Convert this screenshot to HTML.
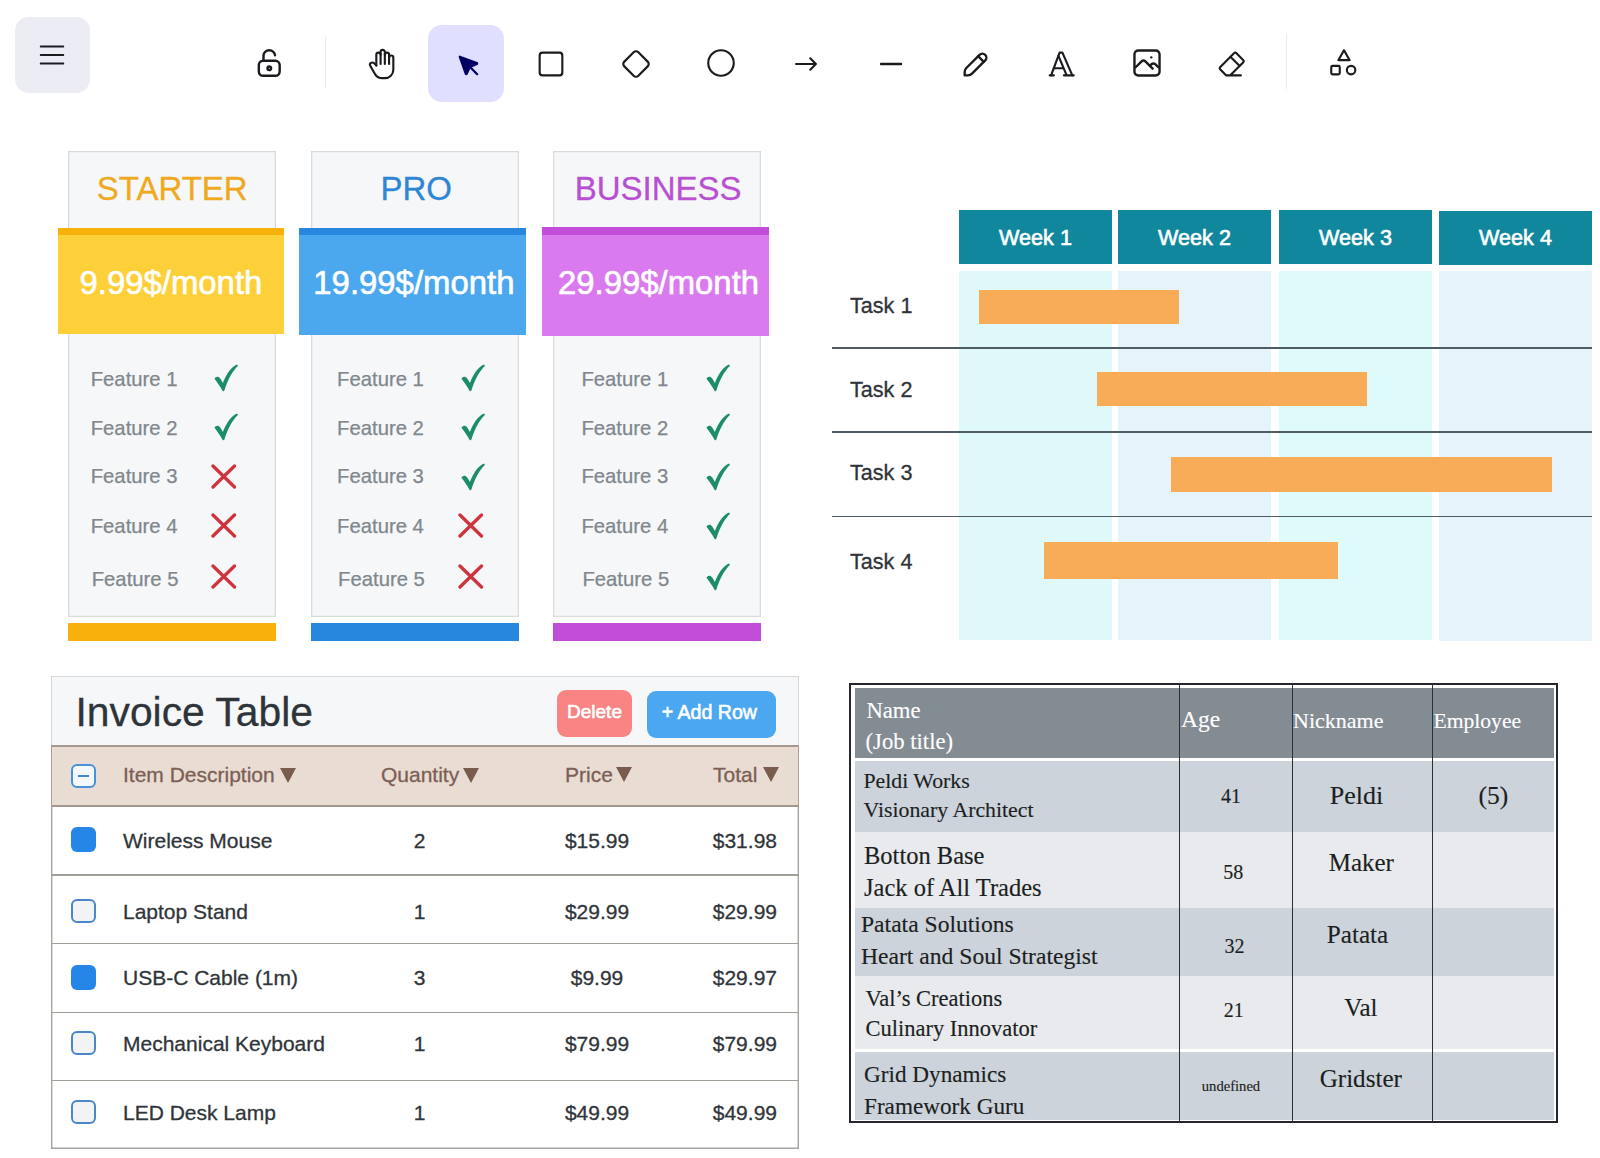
<!DOCTYPE html>
<html><head><meta charset="utf-8"><style>
html,body{margin:0;padding:0;background:#FFFFFF;}
body{width:1600px;height:1158px;position:relative;overflow:hidden;}
.t{position:absolute;white-space:nowrap;}
.r{position:absolute;}
svg.r{overflow:visible;}
</style></head><body>
<div class="r" style="left:14.8px;top:17px;width:75.2px;height:76px;background:#ECECF4;border-radius:14px;"></div>
<div class="r" style="left:428px;top:25px;width:76px;height:77px;background:#E0DFFF;border-radius:14px;"></div>
<div class="r" style="left:324.5px;top:37px;width:1px;height:51px;background:#EAEAF0;"></div>
<div class="r" style="left:1286px;top:33px;width:1px;height:56px;background:#EAEAF0;"></div>
<svg class="r" style="left:35.0px;top:38.0px" width="34" height="34" viewBox="0 0 24 24" fill="none" stroke="#1B1B1F" stroke-linecap="round" stroke-linejoin="round" stroke-width="1.3"><path d="M4 6h16M4 12h16M4 18h16"/></svg>
<svg class="r" style="left:251.8px;top:45.8px" width="34.5" height="34.5" viewBox="0 0 20 20" fill="none" stroke="#1B1B1F" stroke-linecap="round" stroke-linejoin="round" stroke-width="1.4"><path d="M13.542 8.542H6.458a2.5 2.5 0 0 0-2.5 2.5v3.75a2.5 2.5 0 0 0 2.5 2.5h7.084a2.5 2.5 0 0 0 2.5-2.5v-3.75a2.5 2.5 0 0 0-2.5-2.5Z"/><path d="M10 13.958a1.042 1.042 0 1 0 0-2.083 1.042 1.042 0 0 0 0 2.083Z"/><path d="M6.667 8.333V5.417C6.667 3.806 8.159 2.5 10 2.5c1.841 0 3.333 1.306 3.333 2.917"/></svg>
<svg class="r" style="left:364.5px;top:46.7px" width="34" height="34" viewBox="0 0 24 24" fill="none" stroke="#1B1B1F" stroke-linecap="round" stroke-linejoin="round" stroke-width="1.5"><path d="M8 13v-7.5a1.5 1.5 0 0 1 3 0v6.5"/><path d="M11 5.5v-2a1.5 1.5 0 1 1 3 0v8.5"/><path d="M14 5.5a1.5 1.5 0 0 1 3 0v6.5"/><path d="M17 7.5a1.5 1.5 0 0 1 3 0v8.5a6 6 0 0 1 -6 6h-2h.208a6 6 0 0 1 -5.012 -2.7a69.74 69.74 0 0 1 -.196 -.3c-.312 -.479 -1.407 -2.388 -3.286 -5.728a1.5 1.5 0 0 1 .536 -2.022a1.867 1.867 0 0 1 2.28 .28l1.47 1.47"/></svg>
<svg class="r" style="left:451.0px;top:48.0px" width="32" height="32" viewBox="0 0 22 22" fill="none" stroke="#030064" stroke-linecap="round" stroke-linejoin="round" stroke-width="1.5"><path d="M6 6l4.153 11.793a0.365 .365 0 0 0 .331 .207a0.366 .366 0 0 0 .332 -.207l2.184 -4.793l4.787 -1.994a0.355 .355 0 0 0 .213 -.323a0.355 .355 0 0 0 -.213 -.323l-11.787 -4.36z" fill="#030064"/><path d="M13.5 13.5l4.5 4.5"/></svg>
<svg class="r" style="left:534.0px;top:46.5px" width="34" height="34" viewBox="0 0 24 24" fill="none" stroke="#1B1B1F" stroke-linecap="round" stroke-linejoin="round" stroke-width="1.5"><rect x="4" y="4" width="16" height="16" rx="2"/></svg>
<svg class="r" style="left:619.4px;top:46.5px" width="34" height="34" viewBox="0 0 24 24" fill="none" stroke="#1B1B1F" stroke-linecap="round" stroke-linejoin="round" stroke-width="1.5"><path d="M10.5 20.4l-6.9 -6.9c-.781 -.781 -.781 -2.219 0 -3l6.9 -6.9c.781 -.781 2.219 -.781 3 0l6.9 6.9c.781 .781 .781 2.219 0 3l-6.9 6.9c-.781 .781 -2.219 .781 -3 0z"/></svg>
<svg class="r" style="left:704.0px;top:46.1px" width="34" height="34" viewBox="0 0 24 24" fill="none" stroke="#1B1B1F" stroke-linecap="round" stroke-linejoin="round" stroke-width="1.5"><circle cx="12" cy="12" r="9"/></svg>
<svg class="r" style="left:789.0px;top:46.5px" width="34" height="34" viewBox="0 0 24 24" fill="none" stroke="#1B1B1F" stroke-linecap="round" stroke-linejoin="round" stroke-width="1.5"><path d="M5 12h14M15 16l4-4M15 8l4 4"/></svg>
<svg class="r" style="left:874.0px;top:46.5px" width="34" height="34" viewBox="0 0 24 24" fill="none" stroke="#1B1B1F" stroke-linecap="round" stroke-linejoin="round" stroke-width="1.8"><path d="M5 12h14"/></svg>
<svg class="r" style="left:958.5px;top:47.0px" width="34" height="34" viewBox="0 0 20 20" fill="none" stroke="#1B1B1F" stroke-linecap="round" stroke-linejoin="round" stroke-width="1.4"><path d="m7.643 15.69 7.774-7.773a2.357 2.357 0 1 0-3.334-3.334L4.31 12.357a3.333 3.333 0 0 0-.977 2.357v1.953h1.953c.884 0 1.732-.352 2.357-.977Z"/><path d="m11.25 5.417 3.333 3.333"/></svg>
<svg class="r" style="left:1044.0px;top:46.5px" width="34" height="34" viewBox="0 0 24 24" fill="none" stroke="#1B1B1F" stroke-linecap="round" stroke-linejoin="round" stroke-width="1.5"><path d="M4 20h3M14 20h7M6.9 15h6.9M10.2 6.3L16 20"/><polyline points="5 20 11 4 13 4 20 20"/></svg>
<svg class="r" style="left:1129.5px;top:46.2px" width="34" height="34" viewBox="0 0 20 20" fill="none" stroke="#1B1B1F" stroke-linecap="round" stroke-linejoin="round" stroke-width="1.4"><path d="M12.5 6.667h.01"/><path d="M4.91 2.625h10.18a2.284 2.284 0 0 1 2.285 2.284v10.182a2.284 2.284 0 0 1-2.284 2.284H4.909a2.284 2.284 0 0 1-2.284-2.284V4.909a2.284 2.284 0 0 1 2.284-2.284Z"/><path d="m3.333 12.5 3.334-3.333c.773-.745 1.726-.745 2.5 0l4.166 4.166"/><path d="m11.667 11.667.833-.834c.774-.744 1.726-.744 2.5 0l1.667 1.667"/></svg>
<svg class="r" style="left:1214.0px;top:46.5px" width="34" height="34" viewBox="0 0 24 24" fill="none" stroke="#1B1B1F" stroke-linecap="round" stroke-linejoin="round" stroke-width="1.5"><path d="M19 20h-10.5l-4.21 -4.3a1 1 0 0 1 0 -1.41l10 -10a1 1 0 0 1 1.41 0l5 5a1 1 0 0 1 0 1.41l-9.2 9.3"/><path d="M18 13.3l-6.3 -6.3"/></svg>
<svg class="r" style="left:1326.7px;top:46.3px" width="34" height="34" viewBox="0 0 24 24" fill="none" stroke="#1B1B1F" stroke-linecap="round" stroke-linejoin="round" stroke-width="1.5"><path d="M12 3l-4 7h8z"/><path d="M17 17m-3 0a3 3 0 1 0 6 0a3 3 0 1 0 -6 0"/><path d="M3 14m0 1a1 1 0 0 1 1 -1h4a1 1 0 0 1 1 1v4a1 1 0 0 1 -1 1h-4a1 1 0 0 1 -1 -1z"/></svg>
<div class="r" style="left:68px;top:151px;width:208px;height:466px;background:#F5F7F9;box-shadow:inset 0 0 0 1.3px #D9DCDF;"></div>
<div class="t" style="left:22.2px;width:300px;text-align:center;top:169.2px;font-size:33px;line-height:39.60px;color:#F0A91E;font-family:'Liberation Sans', sans-serif;font-weight:400;-webkit-text-stroke:0.3px #F0A91E;">STARTER</div>
<div class="r" style="left:58px;top:228px;width:226px;height:106px;background:#FDD03A;"></div>
<div class="r" style="left:58px;top:228px;width:226px;height:7.400000000000006px;background:#F8B00A;"></div>
<div class="t" style="left:20.9px;width:300px;text-align:center;top:262.7px;font-size:32.9px;line-height:39.48px;color:#FFFFFF;font-family:'Liberation Sans', sans-serif;font-weight:400;-webkit-text-stroke:0.6px #FFFFFF;">9.99$/month</div>
<div class="r" style="left:68px;top:623px;width:208px;height:18px;background:#F8B00A;"></div>
<div class="t" style="left:90.7px;top:366.8px;font-size:20.3px;line-height:24.36px;color:#80878D;font-family:'Liberation Sans', sans-serif;font-weight:400;-webkit-text-stroke:0.25px #80878D;">Feature 1</div>
<div class="r" style="left:214px;top:363.7px;width:24px;height:28px"><svg width="24" height="28" viewBox="0 0 24 28"><path d="M0.5 14.8C1.3 13 3.3 12.3 4.9 13.3C6 14 7.4 16.3 8.9 19C11.8 11.5 15.8 4.8 21.8 1.1C22.9 0.5 24 1 23.8 2.1C18.6 7.3 13.8 15.5 10.4 26.5C10.1 27.5 9 27.6 8.5 26.8C6.2 22.6 3.2 18 0.5 14.8Z" fill="#1C8C6B"/></svg></div>
<div class="t" style="left:90.7px;top:415.6px;font-size:20.3px;line-height:24.36px;color:#80878D;font-family:'Liberation Sans', sans-serif;font-weight:400;-webkit-text-stroke:0.25px #80878D;">Feature 2</div>
<div class="r" style="left:214px;top:412.5px;width:24px;height:28px"><svg width="24" height="28" viewBox="0 0 24 28"><path d="M0.5 14.8C1.3 13 3.3 12.3 4.9 13.3C6 14 7.4 16.3 8.9 19C11.8 11.5 15.8 4.8 21.8 1.1C22.9 0.5 24 1 23.8 2.1C18.6 7.3 13.8 15.5 10.4 26.5C10.1 27.5 9 27.6 8.5 26.8C6.2 22.6 3.2 18 0.5 14.8Z" fill="#1C8C6B"/></svg></div>
<div class="t" style="left:90.7px;top:464.1px;font-size:20.3px;line-height:24.36px;color:#80878D;font-family:'Liberation Sans', sans-serif;font-weight:400;-webkit-text-stroke:0.25px #80878D;">Feature 3</div>
<div class="r" style="left:211px;top:463.8px;width:26px;height:26px"><svg width="26" height="26" viewBox="0 0 26 26"><path d="M2 2l21.5 21M23.5 2L2 23" stroke="#CF333C" stroke-width="3.3" stroke-linecap="round"/></svg></div>
<div class="t" style="left:90.7px;top:513.5px;font-size:20.3px;line-height:24.36px;color:#80878D;font-family:'Liberation Sans', sans-serif;font-weight:400;-webkit-text-stroke:0.25px #80878D;">Feature 4</div>
<div class="r" style="left:211px;top:513.4px;width:26px;height:26px"><svg width="26" height="26" viewBox="0 0 26 26"><path d="M2 2l21.5 21M23.5 2L2 23" stroke="#CF333C" stroke-width="3.3" stroke-linecap="round"/></svg></div>
<div class="t" style="left:91.7px;top:566.5px;font-size:20.3px;line-height:24.36px;color:#80878D;font-family:'Liberation Sans', sans-serif;font-weight:400;-webkit-text-stroke:0.25px #80878D;">Feature 5</div>
<div class="r" style="left:211px;top:564.0px;width:26px;height:26px"><svg width="26" height="26" viewBox="0 0 26 26"><path d="M2 2l21.5 21M23.5 2L2 23" stroke="#CF333C" stroke-width="3.3" stroke-linecap="round"/></svg></div>
<div class="r" style="left:311px;top:151px;width:208px;height:466px;background:#F5F7F9;box-shadow:inset 0 0 0 1.3px #D9DCDF;"></div>
<div class="t" style="left:266.2px;width:300px;text-align:center;top:169.2px;font-size:33px;line-height:39.60px;color:#2F86D4;font-family:'Liberation Sans', sans-serif;font-weight:400;-webkit-text-stroke:0.3px #2F86D4;">PRO</div>
<div class="r" style="left:298.5px;top:228px;width:227.5px;height:106.5px;background:#4BA7EE;"></div>
<div class="r" style="left:298.5px;top:228px;width:227.5px;height:7.400000000000006px;background:#2786DD;"></div>
<div class="t" style="left:263.9px;width:300px;text-align:center;top:262.7px;font-size:32.9px;line-height:39.48px;color:#FFFFFF;font-family:'Liberation Sans', sans-serif;font-weight:400;-webkit-text-stroke:0.6px #FFFFFF;">19.99$/month</div>
<div class="r" style="left:311px;top:623px;width:208px;height:18px;background:#2786DD;"></div>
<div class="t" style="left:337.1px;top:366.8px;font-size:20.3px;line-height:24.36px;color:#80878D;font-family:'Liberation Sans', sans-serif;font-weight:400;-webkit-text-stroke:0.25px #80878D;">Feature 1</div>
<div class="r" style="left:460.5px;top:363.7px;width:24px;height:28px"><svg width="24" height="28" viewBox="0 0 24 28"><path d="M0.5 14.8C1.3 13 3.3 12.3 4.9 13.3C6 14 7.4 16.3 8.9 19C11.8 11.5 15.8 4.8 21.8 1.1C22.9 0.5 24 1 23.8 2.1C18.6 7.3 13.8 15.5 10.4 26.5C10.1 27.5 9 27.6 8.5 26.8C6.2 22.6 3.2 18 0.5 14.8Z" fill="#1C8C6B"/></svg></div>
<div class="t" style="left:337.1px;top:415.6px;font-size:20.3px;line-height:24.36px;color:#80878D;font-family:'Liberation Sans', sans-serif;font-weight:400;-webkit-text-stroke:0.25px #80878D;">Feature 2</div>
<div class="r" style="left:460.5px;top:412.5px;width:24px;height:28px"><svg width="24" height="28" viewBox="0 0 24 28"><path d="M0.5 14.8C1.3 13 3.3 12.3 4.9 13.3C6 14 7.4 16.3 8.9 19C11.8 11.5 15.8 4.8 21.8 1.1C22.9 0.5 24 1 23.8 2.1C18.6 7.3 13.8 15.5 10.4 26.5C10.1 27.5 9 27.6 8.5 26.8C6.2 22.6 3.2 18 0.5 14.8Z" fill="#1C8C6B"/></svg></div>
<div class="t" style="left:337.1px;top:464.1px;font-size:20.3px;line-height:24.36px;color:#80878D;font-family:'Liberation Sans', sans-serif;font-weight:400;-webkit-text-stroke:0.25px #80878D;">Feature 3</div>
<div class="r" style="left:460.5px;top:462.8px;width:24px;height:28px"><svg width="24" height="28" viewBox="0 0 24 28"><path d="M0.5 14.8C1.3 13 3.3 12.3 4.9 13.3C6 14 7.4 16.3 8.9 19C11.8 11.5 15.8 4.8 21.8 1.1C22.9 0.5 24 1 23.8 2.1C18.6 7.3 13.8 15.5 10.4 26.5C10.1 27.5 9 27.6 8.5 26.8C6.2 22.6 3.2 18 0.5 14.8Z" fill="#1C8C6B"/></svg></div>
<div class="t" style="left:337.1px;top:513.5px;font-size:20.3px;line-height:24.36px;color:#80878D;font-family:'Liberation Sans', sans-serif;font-weight:400;-webkit-text-stroke:0.25px #80878D;">Feature 4</div>
<div class="r" style="left:457.5px;top:513.4px;width:26px;height:26px"><svg width="26" height="26" viewBox="0 0 26 26"><path d="M2 2l21.5 21M23.5 2L2 23" stroke="#CF333C" stroke-width="3.3" stroke-linecap="round"/></svg></div>
<div class="t" style="left:338.1px;top:566.5px;font-size:20.3px;line-height:24.36px;color:#80878D;font-family:'Liberation Sans', sans-serif;font-weight:400;-webkit-text-stroke:0.25px #80878D;">Feature 5</div>
<div class="r" style="left:457.5px;top:564.0px;width:26px;height:26px"><svg width="26" height="26" viewBox="0 0 26 26"><path d="M2 2l21.5 21M23.5 2L2 23" stroke="#CF333C" stroke-width="3.3" stroke-linecap="round"/></svg></div>
<div class="r" style="left:553px;top:151px;width:208px;height:466px;background:#F5F7F9;box-shadow:inset 0 0 0 1.3px #D9DCDF;"></div>
<div class="t" style="left:508.1px;width:300px;text-align:center;top:169.2px;font-size:33px;line-height:39.60px;color:#B94FD1;font-family:'Liberation Sans', sans-serif;font-weight:400;-webkit-text-stroke:0.3px #B94FD1;">BUSINESS</div>
<div class="r" style="left:541.8px;top:226.7px;width:227.70000000000005px;height:109.30000000000001px;background:#D97AEE;"></div>
<div class="r" style="left:541.8px;top:226.7px;width:227.70000000000005px;height:8.700000000000017px;background:#C24DD9;"></div>
<div class="t" style="left:508.5px;width:300px;text-align:center;top:262.7px;font-size:32.9px;line-height:39.48px;color:#FFFFFF;font-family:'Liberation Sans', sans-serif;font-weight:400;-webkit-text-stroke:0.6px #FFFFFF;">29.99$/month</div>
<div class="r" style="left:553px;top:623px;width:208px;height:18px;background:#C24DD9;"></div>
<div class="t" style="left:581.4px;top:366.8px;font-size:20.3px;line-height:24.36px;color:#80878D;font-family:'Liberation Sans', sans-serif;font-weight:400;-webkit-text-stroke:0.25px #80878D;">Feature 1</div>
<div class="r" style="left:706px;top:363.7px;width:24px;height:28px"><svg width="24" height="28" viewBox="0 0 24 28"><path d="M0.5 14.8C1.3 13 3.3 12.3 4.9 13.3C6 14 7.4 16.3 8.9 19C11.8 11.5 15.8 4.8 21.8 1.1C22.9 0.5 24 1 23.8 2.1C18.6 7.3 13.8 15.5 10.4 26.5C10.1 27.5 9 27.6 8.5 26.8C6.2 22.6 3.2 18 0.5 14.8Z" fill="#1C8C6B"/></svg></div>
<div class="t" style="left:581.4px;top:415.6px;font-size:20.3px;line-height:24.36px;color:#80878D;font-family:'Liberation Sans', sans-serif;font-weight:400;-webkit-text-stroke:0.25px #80878D;">Feature 2</div>
<div class="r" style="left:706px;top:412.5px;width:24px;height:28px"><svg width="24" height="28" viewBox="0 0 24 28"><path d="M0.5 14.8C1.3 13 3.3 12.3 4.9 13.3C6 14 7.4 16.3 8.9 19C11.8 11.5 15.8 4.8 21.8 1.1C22.9 0.5 24 1 23.8 2.1C18.6 7.3 13.8 15.5 10.4 26.5C10.1 27.5 9 27.6 8.5 26.8C6.2 22.6 3.2 18 0.5 14.8Z" fill="#1C8C6B"/></svg></div>
<div class="t" style="left:581.4px;top:464.1px;font-size:20.3px;line-height:24.36px;color:#80878D;font-family:'Liberation Sans', sans-serif;font-weight:400;-webkit-text-stroke:0.25px #80878D;">Feature 3</div>
<div class="r" style="left:706px;top:462.8px;width:24px;height:28px"><svg width="24" height="28" viewBox="0 0 24 28"><path d="M0.5 14.8C1.3 13 3.3 12.3 4.9 13.3C6 14 7.4 16.3 8.9 19C11.8 11.5 15.8 4.8 21.8 1.1C22.9 0.5 24 1 23.8 2.1C18.6 7.3 13.8 15.5 10.4 26.5C10.1 27.5 9 27.6 8.5 26.8C6.2 22.6 3.2 18 0.5 14.8Z" fill="#1C8C6B"/></svg></div>
<div class="t" style="left:581.4px;top:513.5px;font-size:20.3px;line-height:24.36px;color:#80878D;font-family:'Liberation Sans', sans-serif;font-weight:400;-webkit-text-stroke:0.25px #80878D;">Feature 4</div>
<div class="r" style="left:706px;top:512.4px;width:24px;height:28px"><svg width="24" height="28" viewBox="0 0 24 28"><path d="M0.5 14.8C1.3 13 3.3 12.3 4.9 13.3C6 14 7.4 16.3 8.9 19C11.8 11.5 15.8 4.8 21.8 1.1C22.9 0.5 24 1 23.8 2.1C18.6 7.3 13.8 15.5 10.4 26.5C10.1 27.5 9 27.6 8.5 26.8C6.2 22.6 3.2 18 0.5 14.8Z" fill="#1C8C6B"/></svg></div>
<div class="t" style="left:582.4px;top:566.5px;font-size:20.3px;line-height:24.36px;color:#80878D;font-family:'Liberation Sans', sans-serif;font-weight:400;-webkit-text-stroke:0.25px #80878D;">Feature 5</div>
<div class="r" style="left:706px;top:563.0px;width:24px;height:28px"><svg width="24" height="28" viewBox="0 0 24 28"><path d="M0.5 14.8C1.3 13 3.3 12.3 4.9 13.3C6 14 7.4 16.3 8.9 19C11.8 11.5 15.8 4.8 21.8 1.1C22.9 0.5 24 1 23.8 2.1C18.6 7.3 13.8 15.5 10.4 26.5C10.1 27.5 9 27.6 8.5 26.8C6.2 22.6 3.2 18 0.5 14.8Z" fill="#1C8C6B"/></svg></div>
<div class="r" style="left:959px;top:271px;width:153px;height:369px;background:#DFF9FB;"></div>
<div class="r" style="left:959px;top:209.8px;width:153px;height:53.8px;background:#11879D;"></div>
<div class="t" style="left:935.5px;width:200px;text-align:center;top:224.6px;font-size:21.6px;line-height:25.92px;color:#FFFFFF;font-family:'Liberation Sans', sans-serif;font-weight:400;-webkit-text-stroke:0.6px #FFFFFF;">Week 1</div>
<div class="r" style="left:1118px;top:271px;width:153px;height:369px;background:#E5F4FA;"></div>
<div class="r" style="left:1118px;top:209.8px;width:153px;height:53.8px;background:#11879D;"></div>
<div class="t" style="left:1094.5px;width:200px;text-align:center;top:224.6px;font-size:21.6px;line-height:25.92px;color:#FFFFFF;font-family:'Liberation Sans', sans-serif;font-weight:400;-webkit-text-stroke:0.6px #FFFFFF;">Week 2</div>
<div class="r" style="left:1279px;top:271px;width:153px;height:369px;background:#DFFAFB;"></div>
<div class="r" style="left:1279px;top:209.8px;width:153px;height:53.8px;background:#11879D;"></div>
<div class="t" style="left:1255.5px;width:200px;text-align:center;top:224.6px;font-size:21.6px;line-height:25.92px;color:#FFFFFF;font-family:'Liberation Sans', sans-serif;font-weight:400;-webkit-text-stroke:0.6px #FFFFFF;">Week 3</div>
<div class="r" style="left:1439px;top:271px;width:153px;height:370px;background:#E5F4FA;"></div>
<div class="r" style="left:1439px;top:211px;width:153px;height:53.8px;background:#11879D;"></div>
<div class="t" style="left:1415.5px;width:200px;text-align:center;top:225.4px;font-size:21.6px;line-height:25.92px;color:#FFFFFF;font-family:'Liberation Sans', sans-serif;font-weight:400;-webkit-text-stroke:0.6px #FFFFFF;">Week 4</div>
<div class="r" style="left:832px;top:347px;width:760px;height:1.8px;background:#4F5C64;"></div>
<div class="r" style="left:832px;top:430.8px;width:760px;height:1.8px;background:#4F5C64;"></div>
<div class="r" style="left:832px;top:515.6px;width:760px;height:1.8px;background:#4F5C64;"></div>
<div class="t" style="left:850.0px;top:292.9px;font-size:21.6px;line-height:25.92px;color:#2E3338;font-family:'Liberation Sans', sans-serif;font-weight:400;-webkit-text-stroke:0.3px #2E3338;">Task 1</div>
<div class="t" style="left:850.0px;top:376.5px;font-size:21.6px;line-height:25.92px;color:#2E3338;font-family:'Liberation Sans', sans-serif;font-weight:400;-webkit-text-stroke:0.3px #2E3338;">Task 2</div>
<div class="t" style="left:850.0px;top:459.8px;font-size:21.6px;line-height:25.92px;color:#2E3338;font-family:'Liberation Sans', sans-serif;font-weight:400;-webkit-text-stroke:0.3px #2E3338;">Task 3</div>
<div class="t" style="left:850.0px;top:549.0px;font-size:21.6px;line-height:25.92px;color:#2E3338;font-family:'Liberation Sans', sans-serif;font-weight:400;-webkit-text-stroke:0.3px #2E3338;">Task 4</div>
<div class="r" style="left:979px;top:290px;width:200px;height:34px;background:#F9AC58;"></div>
<div class="r" style="left:1097px;top:372px;width:270px;height:34px;background:#F9AC58;"></div>
<div class="r" style="left:1171px;top:457px;width:381px;height:35px;background:#F9AC58;"></div>
<div class="r" style="left:1044px;top:542px;width:294px;height:37px;background:#F9AC58;"></div>
<div class="r" style="left:51px;top:676px;width:748px;height:473px;background:#FFFFFF;box-shadow:inset 0 0 0 1.4px #A8A49F;"></div>
<div class="r" style="left:51px;top:676px;width:748px;height:70px;box-shadow:inset 0 0 0 1.3px #D6D9DC;"></div>
<div class="r" style="left:52px;top:677px;width:746px;height:69px;background:#F5F7F9;"></div>
<div class="t" style="left:75.5px;top:687.7px;font-size:40.8px;line-height:48.96px;color:#2E3439;font-family:'Liberation Sans', sans-serif;font-weight:400;-webkit-text-stroke:0.3px #2E3439;">Invoice Table</div>
<div class="r" style="left:557px;top:690px;width:75px;height:47px;background:#F88583;border-radius:9px;"></div>
<div class="t" style="left:544.5px;width:100px;text-align:center;top:701.0px;font-size:19px;line-height:22.80px;color:#FFFFFF;font-family:'Liberation Sans', sans-serif;font-weight:400;-webkit-text-stroke:0.6px #FFFFFF;">Delete</div>
<div class="r" style="left:647px;top:691px;width:129px;height:47px;background:#4BA8F0;border-radius:9px;"></div>
<div class="t" style="left:629.3px;width:160px;text-align:center;top:701.4px;font-size:19.6px;line-height:23.52px;color:#FFFFFF;font-family:'Liberation Sans', sans-serif;font-weight:400;-webkit-text-stroke:0.6px #FFFFFF;">+ Add Row</div>
<div class="r" style="left:52px;top:746px;width:746px;height:60px;background:#E8DCD3;"></div>
<div class="r" style="left:51px;top:745px;width:748px;height:1.6px;background:#A8978D;"></div>
<div class="r" style="left:51px;top:805.3px;width:748px;height:1.6px;background:#A8978D;"></div>
<div class="r" style="left:797.6px;top:746px;width:1.4px;height:60px;background:#AE9F97;"></div>
<div class="r" style="left:51px;top:746px;width:1.4px;height:60px;background:#AE9F97;"></div>
<div class="r" style="left:51px;top:874px;width:748px;height:1.5px;background:#A39F99;"></div>
<div class="r" style="left:51px;top:942.5px;width:748px;height:1.5px;background:#A39F99;"></div>
<div class="r" style="left:51px;top:1011.7px;width:748px;height:1.5px;background:#A39F99;"></div>
<div class="r" style="left:51px;top:1079.9px;width:748px;height:1.5px;background:#A39F99;"></div>
<div class="r" style="left:71px;top:764px;width:25px;height:24px;box-sizing:border-box;border:2.4px solid #4A90DA;border-radius:6px;background:#F4F8FC;"></div>
<div class="r" style="left:78px;top:775px;width:11px;height:2.4px;background:#3F86D3;"></div>
<div class="t" style="left:123.0px;top:761.7px;font-size:21px;line-height:25.20px;color:#7C5F55;font-family:'Liberation Sans', sans-serif;font-weight:400;-webkit-text-stroke:0.3px #7C5F55;">Item Description</div>
<svg class="r" style="left:280px;top:768px" width="16" height="15" viewBox="0 0 16 15"><path d="M0 0H16L8.0 15z" fill="#7A5C4F"/></svg>
<div class="t" style="left:381.0px;top:761.7px;font-size:21px;line-height:25.20px;color:#7C5F55;font-family:'Liberation Sans', sans-serif;font-weight:400;-webkit-text-stroke:0.3px #7C5F55;">Quantity</div>
<svg class="r" style="left:463px;top:768px" width="16" height="15" viewBox="0 0 16 15"><path d="M0 0H16L8.0 15z" fill="#7A5C4F"/></svg>
<div class="t" style="left:565.0px;top:761.5px;font-size:21px;line-height:25.20px;color:#7C5F55;font-family:'Liberation Sans', sans-serif;font-weight:400;-webkit-text-stroke:0.3px #7C5F55;">Price</div>
<svg class="r" style="left:616px;top:767px" width="16" height="15" viewBox="0 0 16 15"><path d="M0 0H16L8.0 15z" fill="#7A5C4F"/></svg>
<div class="t" style="left:713.0px;top:761.7px;font-size:21px;line-height:25.20px;color:#7C5F55;font-family:'Liberation Sans', sans-serif;font-weight:400;-webkit-text-stroke:0.3px #7C5F55;">Total</div>
<svg class="r" style="left:763px;top:767px" width="16" height="15" viewBox="0 0 16 15"><path d="M0 0H16L8.0 15z" fill="#7A5C4F"/></svg>
<div class="r" style="left:71px;top:827.4000000000001px;width:25px;height:25px;background:#2586E8;border-radius:6px;"></div>
<div class="t" style="left:123.0px;top:827.8px;font-size:21px;line-height:25.20px;color:#30353A;font-family:'Liberation Sans', sans-serif;font-weight:400;-webkit-text-stroke:0.3px #30353A;">Wireless Mouse</div>
<div class="t" style="left:389.5px;width:60px;text-align:center;top:827.8px;font-size:21px;line-height:25.20px;color:#30353A;font-family:'Liberation Sans', sans-serif;font-weight:400;-webkit-text-stroke:0.3px #30353A;">2</div>
<div class="t" style="left:537.0px;width:120px;text-align:center;top:827.8px;font-size:21px;line-height:25.20px;color:#30353A;font-family:'Liberation Sans', sans-serif;font-weight:400;-webkit-text-stroke:0.3px #30353A;">$15.99</div>
<div class="t" style="left:657.0px;width:120px;text-align:right;top:827.8px;font-size:21px;line-height:25.20px;color:#30353A;font-family:'Liberation Sans', sans-serif;font-weight:400;-webkit-text-stroke:0.3px #30353A;">$31.98</div>
<div class="r" style="left:71px;top:899.0px;width:25px;height:24px;box-sizing:border-box;border:2.4px solid #4A86C8;border-radius:6px;background:#F1F3F5;"></div>
<div class="t" style="left:123.0px;top:898.9px;font-size:21px;line-height:25.20px;color:#30353A;font-family:'Liberation Sans', sans-serif;font-weight:400;-webkit-text-stroke:0.3px #30353A;">Laptop Stand</div>
<div class="t" style="left:389.5px;width:60px;text-align:center;top:898.9px;font-size:21px;line-height:25.20px;color:#30353A;font-family:'Liberation Sans', sans-serif;font-weight:400;-webkit-text-stroke:0.3px #30353A;">1</div>
<div class="t" style="left:537.0px;width:120px;text-align:center;top:898.9px;font-size:21px;line-height:25.20px;color:#30353A;font-family:'Liberation Sans', sans-serif;font-weight:400;-webkit-text-stroke:0.3px #30353A;">$29.99</div>
<div class="t" style="left:657.0px;width:120px;text-align:right;top:898.9px;font-size:21px;line-height:25.20px;color:#30353A;font-family:'Liberation Sans', sans-serif;font-weight:400;-webkit-text-stroke:0.3px #30353A;">$29.99</div>
<div class="r" style="left:71px;top:964.5px;width:25px;height:25px;background:#2586E8;border-radius:6px;"></div>
<div class="t" style="left:123.0px;top:964.9px;font-size:21px;line-height:25.20px;color:#30353A;font-family:'Liberation Sans', sans-serif;font-weight:400;-webkit-text-stroke:0.3px #30353A;">USB-C Cable (1m)</div>
<div class="t" style="left:389.5px;width:60px;text-align:center;top:964.9px;font-size:21px;line-height:25.20px;color:#30353A;font-family:'Liberation Sans', sans-serif;font-weight:400;-webkit-text-stroke:0.3px #30353A;">3</div>
<div class="t" style="left:537.0px;width:120px;text-align:center;top:964.9px;font-size:21px;line-height:25.20px;color:#30353A;font-family:'Liberation Sans', sans-serif;font-weight:400;-webkit-text-stroke:0.3px #30353A;">$9.99</div>
<div class="t" style="left:657.0px;width:120px;text-align:right;top:964.9px;font-size:21px;line-height:25.20px;color:#30353A;font-family:'Liberation Sans', sans-serif;font-weight:400;-webkit-text-stroke:0.3px #30353A;">$29.97</div>
<div class="r" style="left:71px;top:1030.6000000000001px;width:25px;height:24px;box-sizing:border-box;border:2.4px solid #4A86C8;border-radius:6px;background:#F1F3F5;"></div>
<div class="t" style="left:123.0px;top:1030.5px;font-size:21px;line-height:25.20px;color:#30353A;font-family:'Liberation Sans', sans-serif;font-weight:400;-webkit-text-stroke:0.3px #30353A;">Mechanical Keyboard</div>
<div class="t" style="left:389.5px;width:60px;text-align:center;top:1030.5px;font-size:21px;line-height:25.20px;color:#30353A;font-family:'Liberation Sans', sans-serif;font-weight:400;-webkit-text-stroke:0.3px #30353A;">1</div>
<div class="t" style="left:537.0px;width:120px;text-align:center;top:1030.5px;font-size:21px;line-height:25.20px;color:#30353A;font-family:'Liberation Sans', sans-serif;font-weight:400;-webkit-text-stroke:0.3px #30353A;">$79.99</div>
<div class="t" style="left:657.0px;width:120px;text-align:right;top:1030.5px;font-size:21px;line-height:25.20px;color:#30353A;font-family:'Liberation Sans', sans-serif;font-weight:400;-webkit-text-stroke:0.3px #30353A;">$79.99</div>
<div class="r" style="left:71px;top:1100.0px;width:25px;height:24px;box-sizing:border-box;border:2.4px solid #4A86C8;border-radius:6px;background:#F1F3F5;"></div>
<div class="t" style="left:123.0px;top:1099.9px;font-size:21px;line-height:25.20px;color:#30353A;font-family:'Liberation Sans', sans-serif;font-weight:400;-webkit-text-stroke:0.3px #30353A;">LED Desk Lamp</div>
<div class="t" style="left:389.5px;width:60px;text-align:center;top:1099.9px;font-size:21px;line-height:25.20px;color:#30353A;font-family:'Liberation Sans', sans-serif;font-weight:400;-webkit-text-stroke:0.3px #30353A;">1</div>
<div class="t" style="left:537.0px;width:120px;text-align:center;top:1099.9px;font-size:21px;line-height:25.20px;color:#30353A;font-family:'Liberation Sans', sans-serif;font-weight:400;-webkit-text-stroke:0.3px #30353A;">$49.99</div>
<div class="t" style="left:657.0px;width:120px;text-align:right;top:1099.9px;font-size:21px;line-height:25.20px;color:#30353A;font-family:'Liberation Sans', sans-serif;font-weight:400;-webkit-text-stroke:0.3px #30353A;">$49.99</div>
<div class="r" style="left:849px;top:683px;width:709.3px;height:440px;box-sizing:border-box;border:2px solid #24282C;background:#fff;"></div>
<div class="r" style="left:855px;top:688px;width:699px;height:70px;background:#838B93;"></div>
<div class="r" style="left:855px;top:761px;width:699px;height:71px;background:#CCD3DB;"></div>
<div class="r" style="left:855px;top:832px;width:699px;height:76px;background:#E8EAED;"></div>
<div class="r" style="left:855px;top:908px;width:699px;height:68px;background:#CCD3DB;"></div>
<div class="r" style="left:855px;top:976px;width:699px;height:73px;background:#E8EAED;"></div>
<div class="r" style="left:855px;top:1051.5px;width:699px;height:68.5px;background:#CCD3DB;"></div>
<div class="r" style="left:1178.6px;top:684px;width:1.4px;height:438px;background:#2B3035;"></div>
<div class="r" style="left:1291.5px;top:684px;width:1.4px;height:438px;background:#2B3035;"></div>
<div class="r" style="left:1431.7px;top:684px;width:1.4px;height:438px;background:#2B3035;"></div>
<div class="t" style="left:866.4px;top:697.0px;font-size:22.7px;line-height:27.24px;color:#FFFFFF;font-family:'Liberation Serif', serif;font-weight:400;-webkit-text-stroke:0.15px #FFFFFF;">Name</div>
<div class="t" style="left:865.5px;top:727.9px;font-size:22.7px;line-height:27.24px;color:#FFFFFF;font-family:'Liberation Serif', serif;font-weight:400;-webkit-text-stroke:0.15px #FFFFFF;">(Job title)</div>
<div class="t" style="left:1181.0px;top:704.5px;font-size:23.5px;line-height:28.20px;color:#FFFFFF;font-family:'Liberation Serif', serif;font-weight:400;-webkit-text-stroke:0.15px #FFFFFF;">Age</div>
<div class="t" style="left:1293.0px;top:708.2px;font-size:22px;line-height:26.40px;color:#FFFFFF;font-family:'Liberation Serif', serif;font-weight:400;-webkit-text-stroke:0.15px #FFFFFF;">Nickname</div>
<div class="t" style="left:1433.5px;top:709.2px;font-size:21.6px;line-height:25.92px;color:#FFFFFF;font-family:'Liberation Serif', serif;font-weight:400;-webkit-text-stroke:0.15px #FFFFFF;">Employee</div>
<div class="t" style="left:863.5px;top:768.1px;font-size:21.8px;line-height:26.16px;color:#1C1F22;font-family:'Liberation Serif', serif;font-weight:400;-webkit-text-stroke:0.15px #1C1F22;">Peldi Works</div>
<div class="t" style="left:863.5px;top:797.4px;font-size:21.8px;line-height:26.16px;color:#1C1F22;font-family:'Liberation Serif', serif;font-weight:400;-webkit-text-stroke:0.15px #1C1F22;">Visionary Architect</div>
<div class="t" style="left:1176.0px;width:110px;text-align:center;top:783.5px;font-size:20px;line-height:24.00px;color:#1C1F22;font-family:'Liberation Serif', serif;font-weight:400;-webkit-text-stroke:0.15px #1C1F22;">41</div>
<div class="t" style="left:1286.6px;width:140px;text-align:center;top:779.7px;font-size:26px;line-height:31.20px;color:#1C1F22;font-family:'Liberation Serif', serif;font-weight:400;-webkit-text-stroke:0.15px #1C1F22;">Peldi</div>
<div class="t" style="left:1438.4px;width:110px;text-align:center;top:780.6px;font-size:25.5px;line-height:30.60px;color:#1C1F22;font-family:'Liberation Serif', serif;font-weight:400;-webkit-text-stroke:0.15px #1C1F22;">(5)</div>
<div class="t" style="left:864.0px;top:840.7px;font-size:24.5px;line-height:29.40px;color:#1C1F22;font-family:'Liberation Serif', serif;font-weight:400;-webkit-text-stroke:0.15px #1C1F22;">Botton Base</div>
<div class="t" style="left:864.0px;top:873.0px;font-size:24.5px;line-height:29.40px;color:#1C1F22;font-family:'Liberation Serif', serif;font-weight:400;-webkit-text-stroke:0.15px #1C1F22;">Jack of All Trades</div>
<div class="t" style="left:1178.2px;width:110px;text-align:center;top:860.2px;font-size:20px;line-height:24.00px;color:#1C1F22;font-family:'Liberation Serif', serif;font-weight:400;-webkit-text-stroke:0.15px #1C1F22;">58</div>
<div class="t" style="left:1291.3px;width:140px;text-align:center;top:847.6px;font-size:25px;line-height:30.00px;color:#1C1F22;font-family:'Liberation Serif', serif;font-weight:400;-webkit-text-stroke:0.15px #1C1F22;">Maker</div>
<div class="t" style="left:861.0px;top:909.9px;font-size:23.6px;line-height:28.32px;color:#1C1F22;font-family:'Liberation Serif', serif;font-weight:400;-webkit-text-stroke:0.15px #1C1F22;">Patata Solutions</div>
<div class="t" style="left:861.0px;top:941.6px;font-size:23.6px;line-height:28.32px;color:#1C1F22;font-family:'Liberation Serif', serif;font-weight:400;-webkit-text-stroke:0.15px #1C1F22;">Heart and Soul Strategist</div>
<div class="t" style="left:1179.4px;width:110px;text-align:center;top:933.8px;font-size:20px;line-height:24.00px;color:#1C1F22;font-family:'Liberation Serif', serif;font-weight:400;-webkit-text-stroke:0.15px #1C1F22;">32</div>
<div class="t" style="left:1287.5px;width:140px;text-align:center;top:920.4px;font-size:25.2px;line-height:30.24px;color:#1C1F22;font-family:'Liberation Serif', serif;font-weight:400;-webkit-text-stroke:0.15px #1C1F22;">Patata</div>
<div class="t" style="left:865.4px;top:984.9px;font-size:22.5px;line-height:27.00px;color:#1C1F22;font-family:'Liberation Serif', serif;font-weight:400;-webkit-text-stroke:0.15px #1C1F22;">Val&#8217;s Creations</div>
<div class="t" style="left:865.4px;top:1015.1px;font-size:22.5px;line-height:27.00px;color:#1C1F22;font-family:'Liberation Serif', serif;font-weight:400;-webkit-text-stroke:0.15px #1C1F22;">Culinary Innovator</div>
<div class="t" style="left:1178.7px;width:110px;text-align:center;top:998.2px;font-size:20px;line-height:24.00px;color:#1C1F22;font-family:'Liberation Serif', serif;font-weight:400;-webkit-text-stroke:0.15px #1C1F22;">21</div>
<div class="t" style="left:1290.8px;width:140px;text-align:center;top:992.6px;font-size:25px;line-height:30.00px;color:#1C1F22;font-family:'Liberation Serif', serif;font-weight:400;-webkit-text-stroke:0.15px #1C1F22;">Val</div>
<div class="t" style="left:864.0px;top:1060.8px;font-size:23.2px;line-height:27.84px;color:#1C1F22;font-family:'Liberation Serif', serif;font-weight:400;-webkit-text-stroke:0.15px #1C1F22;">Grid Dynamics</div>
<div class="t" style="left:864.0px;top:1092.8px;font-size:23.2px;line-height:27.84px;color:#1C1F22;font-family:'Liberation Serif', serif;font-weight:400;-webkit-text-stroke:0.15px #1C1F22;">Framework Guru</div>
<div class="t" style="left:1176.0px;width:110px;text-align:center;top:1077.8px;font-size:14.6px;line-height:17.52px;color:#1C1F22;font-family:'Liberation Serif', serif;font-weight:400;-webkit-text-stroke:0.15px #1C1F22;">undefined</div>
<div class="t" style="left:1290.8px;width:140px;text-align:center;top:1063.5px;font-size:25.1px;line-height:30.12px;color:#1C1F22;font-family:'Liberation Serif', serif;font-weight:400;-webkit-text-stroke:0.15px #1C1F22;">Gridster</div>
</body></html>
